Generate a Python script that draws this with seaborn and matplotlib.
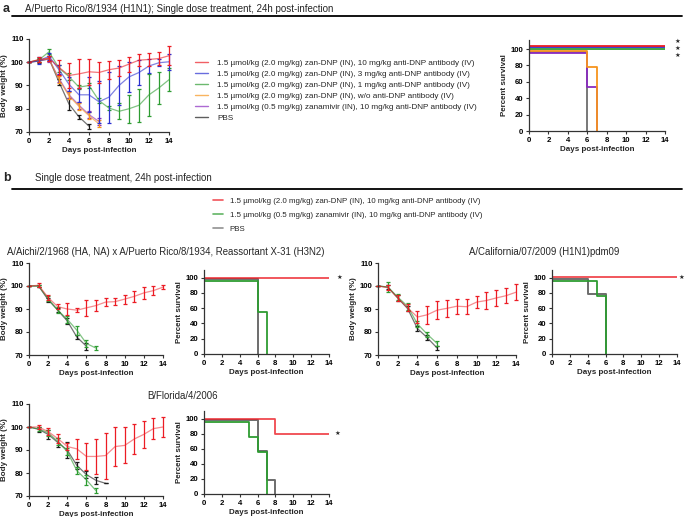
"""
Recreated figure: body weight and survival after single-dose treatment
"""
import matplotlib
matplotlib.use("Agg")
import matplotlib.pyplot as plt
from matplotlib.lines import Line2D
import seaborn as sns

# ---------- data ----------
days = list(range(15))

# panel a, body weight (%)
a_red_mean = [100, 101.2, 101.7, 97.8, 94.3, 95.0, 95.9, 95.6, 96.8, 97.5, 99.2, 100.9, 101.2, 101.6, 102.8]
a_red_sd = [0, 1.2, 1.2, 3.3, 5.3, 6.2, 5.7, 4.7, 3.9, 3.6, 3.2, 2.7, 2.6, 2.6, 4.0]
a_blue_mean = [100, 100.6, 102.6, 96.8, 90.5, 86.0, 86.0, 83.0, 85.0, 90.0, 93.7, 95.6, 98.4, 99.8, 100.2]
a_blue_sd = [0, 1.5, 1.5, 2.0, 3.0, 3.0, 7.5, 9.0, 11.0, 8.5, 6.3, 5.3, 3.2, 1.5, 3.5]
a_green_mean = [100, 101.0, 104.5, 97.5, 93.8, 89.3, 90.0, 83.5, 80.3, 78.9, 80.0, 81.5, 86.0, 89.0, 92.5]
a_green_sd = [0, 1.0, 1.0, 1.5, 1.5, 1.0, 1.0, 1.0, 1.0, 3.5, 6.0, 7.0, 9.0, 7.0, 5.0]
a_orange_mean = [100, 101.0, 101.5, 92.5, 85.5, 81.0, 77.0, 73.5]
a_orange_sd = [0, 0.8, 1.0, 1.5, 1.5, 1.5, 1.5, 1.5]
a_purple_mean = [100, 100.8, 101.3, 93.0, 86.0, 81.5, 77.5, 74.5]
a_purple_sd = [0, 0.8, 1.0, 1.5, 1.5, 1.5, 1.5, 1.5]
a_pbs_mean = [100, 100.5, 101.5, 91.5, 82.0, 76.5, 72.5]
a_pbs_sd = [0, 0.8, 1.0, 1.5, 2.5, 1.0, 1.0]

# panel a, survival (%) as drawn (groups offset slightly in the original)
a_surv_red_x, a_surv_red_y = [0, 14], [104, 104]
a_surv_blue_x, a_surv_blue_y = [0, 14], [102, 102]
a_surv_green_x, a_surv_green_y = [0, 14], [100, 100]
a_surv_orange_x, a_surv_orange_y = [0, 6, 7], [98, 78, 0]
a_surv_purple_x, a_surv_purple_y = [0, 6, 7], [95, 54, 0]
a_surv_pbs_x, a_surv_pbs_y = [0, 6], [96.5, 0]

a_labels = [
    "1.5 µmol/kg (2.0 mg/kg) zan-DNP (IN), 10 mg/kg anti-DNP antibody (IV)",
    "1.5 µmol/kg (2.0 mg/kg) zan-DNP (IN), 3 mg/kg anti-DNP antibody (IV)",
    "1.5 µmol/kg (2.0 mg/kg) zan-DNP (IN), 1 mg/kg anti-DNP antibody (IV)",
    "1.5 µmol/kg (2.0 mg/kg) zan-DNP (IN), w/o anti-DNP antibody (IV)",
    "1.5 µmol/kg (0.5 mg/kg) zanamivir (IN), 10 mg/kg anti-DNP antibody (IV)",
    "PBS",
]
b_labels = [
    "1.5 µmol/kg (2.0 mg/kg) zan-DNP (IN), 10 mg/kg anti-DNP antibody (IV)",
    "1.5 µmol/kg (0.5 mg/kg) zanamivir (IN), 10 mg/kg anti-DNP antibody (IV)",
    "PBS",
]

# panel b, X-31
x31_red_mean = [100, 100.3, 95.0, 91.0, 90.0, 89.5, 90.5, 91.5, 93.0, 93.2, 94.3, 95.5, 97.0, 98.0, 99.5]
x31_red_sd = [0, 0.8, 1.0, 1.2, 2.5, 1.0, 3.5, 2.5, 1.8, 1.5, 2.0, 2.5, 2.5, 1.8, 1.0]
x31_green_mean = [100, 100.0, 94.5, 89.5, 85.5, 80.8, 75.0, 73.0]
x31_green_sd = [0, 0.5, 1.0, 1.2, 1.5, 2.0, 1.5, 1.0]
x31_pbs_mean = [100, 100.0, 94.0, 89.5, 84.8, 77.8, 73.8]
x31_pbs_sd = [0, 0.5, 1.0, 1.0, 1.5, 1.0, 1.5]
x31_surv_red_x, x31_surv_red_y = [0, 14], [100, 100]
x31_surv_green_x, x31_surv_green_y = [0, 6, 7], [96, 55, 0]
x31_surv_pbs_x, x31_surv_pbs_y = [0, 6], [98, 0]

# panel b, California
cal_red_mean = [100, 99.3, 94.8, 90.5, 86.5, 87.5, 89.5, 90.3, 91.2, 91.0, 93.0, 93.7, 94.8, 95.8, 97.3]
cal_red_sd = [0, 1.0, 1.5, 1.5, 2.6, 4.0, 4.0, 3.8, 3.2, 3.2, 2.6, 3.6, 3.6, 3.3, 3.5]
cal_green_mean = [100, 99.6, 95.2, 91.2, 83.5, 79.0, 75.0]
cal_green_sd = [0, 2.0, 1.2, 1.5, 1.5, 1.2, 1.0]
cal_pbs_mean = [100, 99.5, 94.8, 90.2, 81.5, 77.5, 73.0]
cal_pbs_sd = [0, 1.0, 1.2, 1.2, 1.2, 1.0, 0.8]
cal_surv_red_x, cal_surv_red_y = [0, 14], [100.5, 100.5]
cal_surv_green_x, cal_surv_green_y = [0, 5, 6], [96, 76, 0]
cal_surv_pbs_x, cal_surv_pbs_y = [0, 4, 6], [98, 78, 0]

# panel b, B/Florida
fl_red_mean = [100, 100.0, 98.0, 95.0, 91.5, 90.5, 87.2, 87.2, 87.6, 91.5, 92.0, 94.8, 96.8, 99.3, 100.0]
fl_red_sd = [0, 1.0, 1.5, 1.8, 1.5, 4.5, 6.0, 7.7, 10.0, 8.5, 7.8, 6.5, 5.8, 4.5, 4.3]
fl_green_mean = [100, 99.2, 97.5, 93.8, 89.3, 81.0, 77.0, 72.3]
fl_green_sd = [0, 0.8, 1.2, 1.5, 1.5, 1.5, 2.0, 1.2]
fl_pbs_mean = [100, 99.0, 96.8, 93.3, 90.0, 83.3, 79.3, 76.8, 75.5]
fl_pbs_sd = [0, 1.0, 1.8, 1.8, 3.5, 1.5, 1.5, 1.5, 0]
fl_surv_red_x, fl_surv_red_y = [0, 8, 14], [100, 80, 80]
fl_surv_green_x, fl_surv_green_y = [0, 5, 6, 7], [96, 76, 56, 0]
fl_surv_pbs_x, fl_surv_pbs_y = [0, 6, 7, 8], [98, 57, 18, 0]

# ---------- style ----------
sns.set_theme(style="ticks")
plt.rcParams["font.family"] = ["Liberation Sans", "DejaVu Sans"]

RED = "#ec1c24"
BLUE = "#2a2fd0"
GREEN = "#2e9c32"
ORANGE = "#f7941d"
PURPLE = "#8a2bbf"
BLACK = "#1a1a1a"
GREY = "#6d6d6d"

W, H = 685, 517
fig = plt.figure(figsize=(W / 100, H / 100), dpi=100)


def px_axes(x0, x1, ytop, ybot):
    """按像素位置添加坐标轴"""
    return fig.add_axes([x0 / W, 1 - ybot / H, (x1 - x0) / W, (ybot - ytop) / H])


def style_axes(ax, ylabel, ylim, yticks):
    ax.set_xlim(0, 14)
    ax.set_ylim(*ylim)
    ax.set_xticks(range(0, 15, 2))
    ax.set_yticks(yticks)
    sns.despine(ax=ax)
    for s in ("left", "bottom"):
        ax.spines[s].set_linewidth(0.9)
        ax.spines[s].set_color("#333333")
    ax.tick_params(length=2.5, width=0.8, pad=1.5, labelsize=5.6, colors="#333333")
    for lab in ax.get_xticklabels() + ax.get_yticklabels():
        lab.set_fontweight("bold")
        lab.set_color("black")
    ax.set_xlabel("Days post-infection", fontsize=5.8, fontweight="bold", labelpad=2)
    ax.set_ylabel(ylabel, fontsize=5.8, fontweight="bold", labelpad=2)


def weight_series(ax, mean, sd, color, line_alpha=0.6):
    x = days[:len(mean)]
    sns.lineplot(x=x, y=mean, ax=ax, color=color, alpha=line_alpha, lw=0.9)
    ax.errorbar(x, mean, yerr=sd, fmt="none", ecolor=color, elinewidth=0.9,
                capsize=1.4, capthick=0.9, clip_on=False)


def surv_series(ax, x, y, color, lw=1.3, alpha=1.0):
    sns.lineplot(x=x, y=y, ax=ax, color=color, lw=lw, alpha=alpha,
                 drawstyle="steps-post", estimator=None, sort=False)


def star(ax, x, y):
    ax.text(x, y, "★", fontsize=4.6, ha="center", va="center", clip_on=False,
            family=["DejaVu Sans"])


def header(y_txt, y_line, letter, text, x_txt):
    fig.text(3 / W, 1 - y_txt / H, letter, fontsize=9, fontweight="bold", va="center")
    fig.text(x_txt / W, 1 - y_txt / H, text, fontsize=7.0, va="center")
    fig.add_artist(Line2D([12 / W, 682 / W], [1 - y_line / H, 1 - y_line / H],
                          transform=fig.transFigure, color="black", lw=1.3))


# ---------- panel a ----------
header(9, 16, "a", "A/Puerto Rico/8/1934 (H1N1); Single dose treatment, 24h post-infection", 25)

ax = px_axes(29, 169, 39, 132)
weight_series(ax, a_pbs_mean, a_pbs_sd, BLACK)
weight_series(ax, a_purple_mean, a_purple_sd, PURPLE)
weight_series(ax, a_orange_mean, a_orange_sd, ORANGE)
weight_series(ax, a_green_mean, a_green_sd, GREEN)
weight_series(ax, a_blue_mean, a_blue_sd, BLUE)
weight_series(ax, a_red_mean, a_red_sd, RED)
style_axes(ax, "Body weight (%)", (70, 110), [70, 80, 90, 100, 110])

a_colors = [RED, BLUE, GREEN, ORANGE, PURPLE, BLACK]
handles = [Line2D([], [], color=c, lw=1.0, alpha=0.7) for c in a_colors]
fig.legend(handles, a_labels, loc="upper left", bbox_to_anchor=(195 / W, 1 - 59.5 / H),
           frameon=False, fontsize=5.9, handlelength=1.6, handletextpad=1.1,
           labelspacing=0.39, borderpad=0, borderaxespad=0)

ax = px_axes(529, 665, 40, 131)
surv_series(ax, a_surv_pbs_x, a_surv_pbs_y, GREY)
surv_series(ax, a_surv_purple_x, a_surv_purple_y, PURPLE)
surv_series(ax, a_surv_orange_x, a_surv_orange_y, ORANGE)
surv_series(ax, a_surv_green_x, a_surv_green_y, GREEN)
surv_series(ax, a_surv_blue_x, a_surv_blue_y, BLUE)
surv_series(ax, a_surv_red_x, a_surv_red_y, RED)
style_axes(ax, "Percent survival", (0, 111), [0, 20, 40, 60, 80, 100])
for yv in (108.6, 100.4, 91.8):
    star(ax, 15.3, yv)

# ---------- panel b ----------
header(178, 189, "b", "Single dose treatment, 24h post-infection", 35)

b_colors = [RED, GREEN, GREY]
handles = [Line2D([], [], color=c, lw=1.2, alpha=0.75) for c in b_colors]
fig.legend(handles, b_labels, loc="upper left", bbox_to_anchor=(213 / W, 1 - 197.5 / H),
           frameon=False, fontsize=5.7, handlelength=1.3, handletextpad=0.8,
           labelspacing=0.82, borderpad=0, borderaxespad=0)

fig.text(166 / W, 1 - 252 / H,
         "A/Aichi/2/1968 (HA, NA) x A/Puerto Rico/8/1934, Reassortant X-31 (H3N2)",
         fontsize=6.9, ha="center", va="center")
fig.text(544 / W, 1 - 252 / H, "A/California/07/2009 (H1N1)pdm09",
         fontsize=6.9, ha="center", va="center")
fig.text(182 / W, 1 - 396 / H, "B/Florida/4/2006",
         fontsize=6.9, ha="center", va="center")

groups = [
    # (weight box, survival box, weight data, survival data, star y, star x)
    ((29, 163, 263, 355), (204, 329, 270, 354),
     (x31_pbs_mean, x31_pbs_sd, x31_green_mean, x31_green_sd, x31_red_mean, x31_red_sd),
     (x31_surv_pbs_x, x31_surv_pbs_y, x31_surv_green_x, x31_surv_green_y, x31_surv_red_x, x31_surv_red_y),
     100, 15.2),
    ((378, 516, 263, 355), (552, 677, 270, 354),
     (cal_pbs_mean, cal_pbs_sd, cal_green_mean, cal_green_sd, cal_red_mean, cal_red_sd),
     (cal_surv_pbs_x, cal_surv_pbs_y, cal_surv_green_x, cal_surv_green_y, cal_surv_red_x, cal_surv_red_y),
     100, 14.45),
    ((29, 163, 404, 496), (204, 329, 411, 494),
     (fl_pbs_mean, fl_pbs_sd, fl_green_mean, fl_green_sd, fl_red_mean, fl_red_sd),
     (fl_surv_pbs_x, fl_surv_pbs_y, fl_surv_green_x, fl_surv_green_y, fl_surv_red_x, fl_surv_red_y),
     80, 15.0),
]

for wbox, sbox, wdat, sdat, star_y, star_x in groups:
    ax = px_axes(*wbox)
    weight_series(ax, wdat[0], wdat[1], BLACK)
    weight_series(ax, wdat[2], wdat[3], GREEN)
    weight_series(ax, wdat[4], wdat[5], RED, line_alpha=0.5)
    style_axes(ax, "Body weight (%)", (70, 110), [70, 80, 90, 100, 110])

    ax = px_axes(*sbox)
    surv_series(ax, sdat[0], sdat[1], GREY, lw=1.4)
    surv_series(ax, sdat[2], sdat[3], GREEN, lw=1.3)
    surv_series(ax, sdat[4], sdat[5], RED, lw=1.3, alpha=0.8)
    style_axes(ax, "Percent survival", (0, 110), [0, 20, 40, 60, 80, 100])
    star(ax, star_x, star_y)

fig.savefig("out.png", dpi=100)
plt.close(fig)
